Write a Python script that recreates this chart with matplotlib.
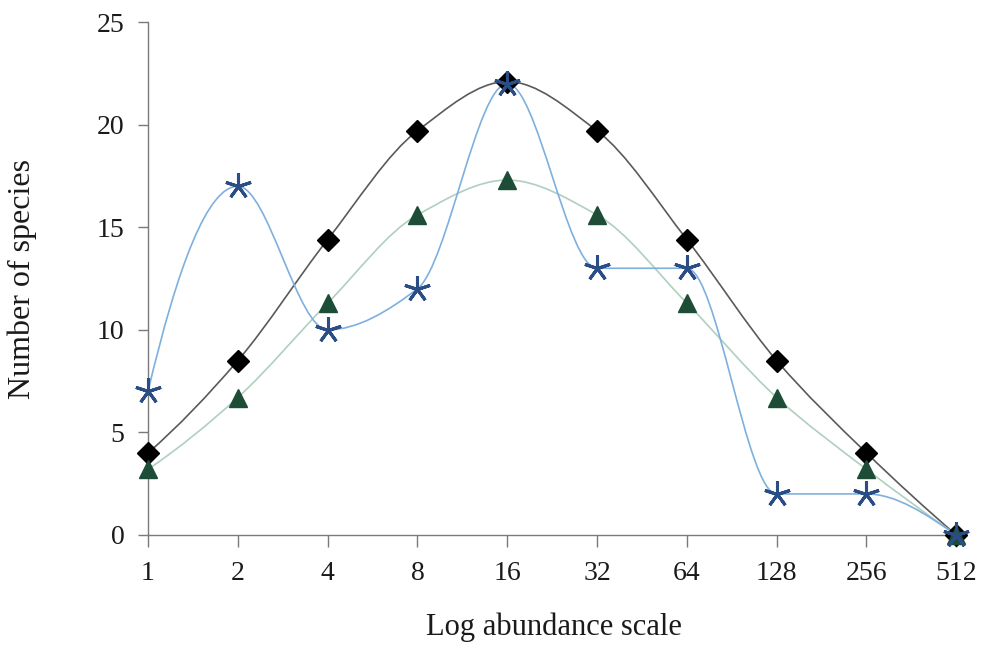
import matplotlib
matplotlib.use('Agg')
import matplotlib.pyplot as plt
import numpy as np
from matplotlib.path import Path
from matplotlib.patches import PathPatch

# categories (log2 abundance classes)
categories = ['1', '2', '4', '8', '16', '32', '64', '128', '256', '512']

# three series
diamonds = [4.0, 8.5, 14.4, 19.7, 22.1, 19.7, 14.4, 8.5, 4.0, 0.0]
triangles = [3.2, 6.7, 11.3, 15.6, 17.3, 15.6, 11.3, 6.7, 3.2, 0.0]
stars = [7, 17, 10, 12, 22, 13, 13, 2, 2, 0]


def smooth_path(xs, ys):
    # monotone cubic (Fritsch-Carlson) tangents, drawn as bezier segments
    x = np.asarray(xs, float)
    y = np.asarray(ys, float)
    h = np.diff(x)
    d = np.diff(y) / h
    n = len(x)
    m = np.zeros(n)
    for i in range(1, n - 1):
        if d[i - 1] * d[i] > 0:
            w1 = 2 * h[i] + h[i - 1]
            w2 = h[i] + 2 * h[i - 1]
            m[i] = (w1 + w2) / (w1 / d[i - 1] + w2 / d[i])
    # end points
    m[0] = ((2 * h[0] + h[1]) * d[0] - h[0] * d[1]) / (h[0] + h[1])
    if np.sign(m[0]) != np.sign(d[0]):
        m[0] = 0
    m[-1] = ((2 * h[-1] + h[-2]) * d[-1] - h[-1] * d[-2]) / (h[-1] + h[-2])
    if np.sign(m[-1]) != np.sign(d[-1]):
        m[-1] = 0
    verts = [(x[0], y[0])]
    codes = [Path.MOVETO]
    for i in range(n - 1):
        c1 = (x[i] + h[i] / 3, y[i] + m[i] * h[i] / 3)
        c2 = (x[i + 1] - h[i] / 3, y[i + 1] - m[i + 1] * h[i] / 3)
        verts += [c1, c2, (x[i + 1], y[i + 1])]
        codes += [Path.CURVE4] * 3
    return Path(verts, codes)


plt.rcParams['font.family'] = ['Liberation Serif', 'DejaVu Serif']

fig = plt.figure(figsize=(9.81, 6.5), dpi=100)
ax = fig.add_axes([0.1509, 0.177, 0.828, 0.789])

x = list(range(len(categories)))

series = [
    (diamonds, '#5a5a5a', 'D', '#000000', 11),
    (triangles, '#aed0bf', '^', '#1d4d36', 13),
    (stars, '#7eb0de', (5, 2, 0), '#2b4d86', 19),
]

for ys, lc, mk, mc, ms in series:
    ax.add_patch(PathPatch(smooth_path(x, ys), facecolor='none',
                           edgecolor=lc, linewidth=1.2, zorder=2))

for ys, lc, mk, mc, ms in series:
    if mk == (5, 2, 0):
        ax.plot(x, ys, linestyle='none', marker=mk, markersize=ms,
                markeredgecolor=mc, markeredgewidth=2.2, zorder=4)
    else:
        ax.plot(x, ys, linestyle='none', marker=mk, markersize=ms,
                color=mc, markeredgecolor=mc, zorder=3)

ax.set_xlim(0, 9.045)
ax.set_ylim(0, 25)
ax.set_xticks(x)
ax.set_xticklabels(categories)
ax.set_yticks([0, 5, 10, 15, 20, 25])

for s in ['top', 'right']:
    ax.spines[s].set_visible(False)
for s in ['left', 'bottom']:
    ax.spines[s].set_color('#7a7a7a')
    ax.spines[s].set_linewidth(1.0)

ax.tick_params(axis='both', colors='#7a7a7a', labelcolor='#1a1a1a',
               labelsize=20, width=1.0, direction='out')
ax.tick_params(axis='x', length=8.5, pad=10)
ax.tick_params(axis='y', length=7, pad=10)
for a in ax.lines + ax.patches:
    a.set_clip_on(False)

ax.set_xlabel('Log abundance scale', fontsize=22, color='#1a1a1a')
ax.set_ylabel('Number of species', fontsize=23, color='#1a1a1a')
ax.xaxis.set_label_coords(0.5, -0.152)
ax.yaxis.set_label_coords(-0.137, 0.5)

plt.savefig('out.png', dpi=100)
